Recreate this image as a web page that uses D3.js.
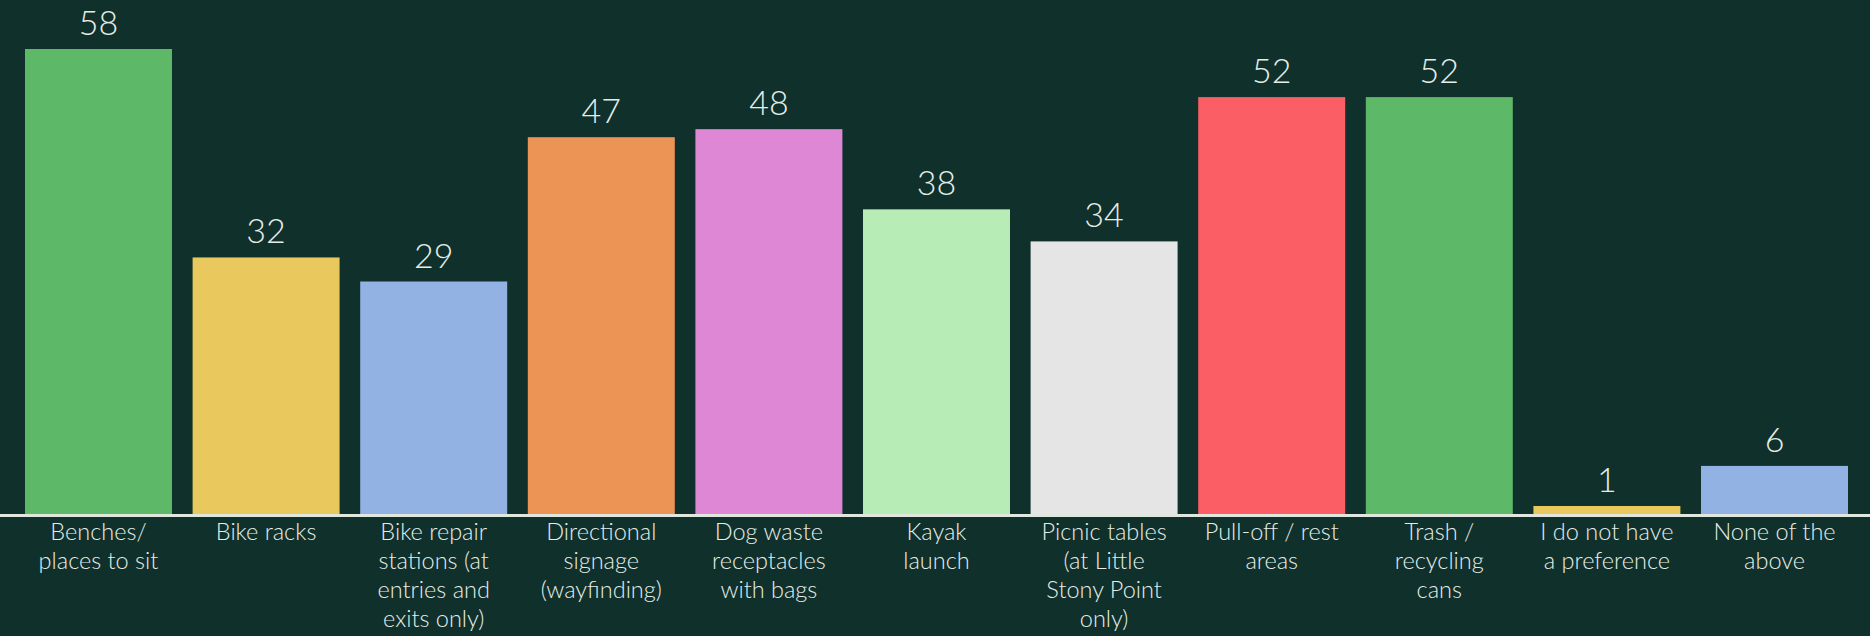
<!DOCTYPE html>
<html>
<head>
<meta charset="utf-8">
<script src="https://cdn.jsdelivr.net/npm/d3@7"></script>
<style>
html,body{margin:0;padding:0;background:#10302b;}
svg{display:block;}
</style>
</head>
<body>
<svg id="chart" width="1870" height="636"></svg>
<script>
const categories = [
  "Benches/\nplaces to sit",
  "Bike racks",
  "Bike repair\nstations (at\nentries and\nexits only)",
  "Directional\nsignage\n(wayfinding)",
  "Dog waste\nreceptacles\nwith bags",
  "Kayak\nlaunch",
  "Picnic tables\n(at Little\nStony Point\nonly)",
  "Pull-off / rest\nareas",
  "Trash /\nrecycling\ncans",
  "I do not have\na preference",
  "None of the\nabove"
];
const values = [58, 32, 29, 47, 48, 38, 34, 52, 52, 1, 6];
const colors = ["#5db868", "#e9c95d", "#91b2e2", "#ec9356", "#de88d5", "#b8ecb7", "#e5e5e5", "#fb5f65", "#5db868", "#e9c95d", "#91b2e2"];

const W = 1870, H = 636;
const baseY = 514;
const svg = d3.select("#chart");
const font = "Lato, 'Open Sans', sans-serif";
const textColor = "#e6ede8";

const x = d3.scaleBand().domain(categories).range([25, 1848]).paddingInner(0.123).paddingOuter(0);
const y = d3.scaleLinear().domain([0, 58]).range([baseY, 49]);

svg.append("g").selectAll("rect").data(values).join("rect")
  .attr("x", (d, i) => x(categories[i]))
  .attr("width", x.bandwidth())
  .attr("y", d => y(d))
  .attr("height", d => baseY - y(d))
  .attr("fill", (d, i) => colors[i]);

svg.append("g").selectAll("text").data(values).join("text")
  .attr("x", (d, i) => x(categories[i]) + x.bandwidth() / 2)
  .attr("y", d => y(d) - 14)
  .attr("text-anchor", "middle")
  .attr("font-family", font)
  .attr("font-weight", 300)
  .attr("font-size", 34)
  .attr("fill", textColor)
  .text(d => d);

const axis = d3.axisBottom(x).tickSize(0).tickFormat("");
const gAxis = svg.append("g").attr("transform", `translate(0,${baseY + 1.5})`).call(axis);
gAxis.select(".domain").remove();
svg.append("line").attr("x1", 0).attr("x2", W).attr("y1", baseY + 1.5).attr("y2", baseY + 1.5)
  .attr("stroke", "#dfe7df").attr("stroke-width", 3);

gAxis.selectAll(".tick").each(function(d) {
  const t = d3.select(this).append("text")
    .attr("text-anchor", "middle")
    .attr("font-family", font)
    .attr("font-weight", 300)
    .attr("font-size", 23.5)
    .attr("fill", textColor);
  d.split("\n").forEach((line, i) => {
    t.append("tspan").attr("x", 0).attr("y", 24.5 + i * 29).text(line);
  });
});
</script>
</body>
</html>
